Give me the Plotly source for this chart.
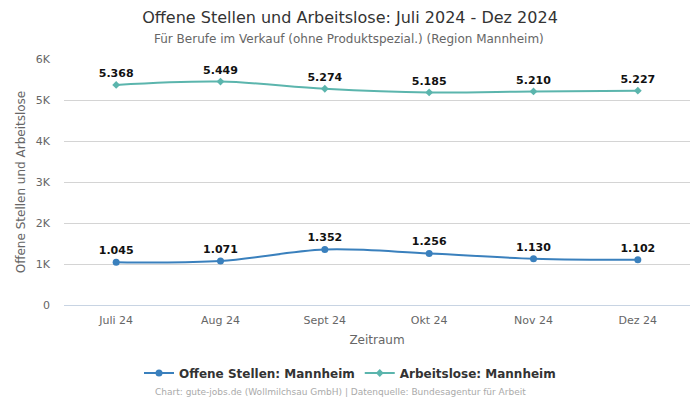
import plotly.graph_objects as go

months = ["Juli 24", "Aug 24", "Sept 24", "Okt 24", "Nov 24", "Dez 24"]
offene = [1045, 1071, 1352, 1256, 1130, 1102]
arbeitslose = [5368, 5449, 5274, 5185, 5210, 5227]
y_ticks = [0, 1000, 2000, 3000, 4000, 5000, 6000]
y_tick_labels = ["0", "1K", "2K", "3K", "4K", "5K", "6K"]

def fmt(v):
    return f"{v:,}".replace(",", ".")

FONT = "DejaVu Sans"
c_off = "#3a80bd"
c_arb = "#5bb5ad"

# page body has an 8px default margin -> figure is 692x392
W, H = 692, 392
L, T, PW, PH = 56, 51, 626, 246

fig = go.Figure()
fig.add_trace(go.Scatter(
    x=months, y=offene, name="Offene Stellen: Mannheim",
    mode="lines+markers+text", line=dict(color=c_off, width=2, shape="spline"),
    marker=dict(symbol="circle", size=7, color=c_off),
    text=[fmt(v) for v in offene], textposition="top center",
    textfont=dict(family=FONT, size=11, color="#111111", weight="bold"),
))
fig.add_trace(go.Scatter(
    x=months, y=arbeitslose, name="Arbeitslose: Mannheim",
    mode="lines+markers+text", line=dict(color=c_arb, width=2, shape="spline"),
    marker=dict(symbol="diamond", size=6, color=c_arb),
    text=[fmt(v) for v in arbeitslose], textposition="top center",
    textfont=dict(family=FONT, size=11, color="#111111", weight="bold"),
))

fig.update_layout(
    width=W, height=H,
    margin=dict(l=L, r=W - L - PW, t=T, b=H - T - PH, autoexpand=False),
    paper_bgcolor="white", plot_bgcolor="white",
    font=dict(family=FONT, color="#666666"),
    title=dict(
        text="Offene Stellen und Arbeitslose: Juli 2024 - Dez 2024",
        xref="container", yref="container",
        x=342 / W, xanchor="center", y=1 - 9 / H, yanchor="middle",
        font=dict(family=FONT, size=16, color="#333333"),
    ),
    xaxis=dict(
        type="category", range=[-0.5, 5.5],
        showgrid=False, showline=False, ticks="",
        ticklabelstandoff=7,
        tickfont=dict(size=11, color="#666666"),
        title=dict(text="Zeitraum", font=dict(size=12, color="#666666"), standoff=9),
    ),
    yaxis=dict(
        range=[0, 6000], tickvals=y_ticks, ticktext=y_tick_labels,
        showgrid=True, gridcolor="#d4d4d4", gridwidth=1,
        zeroline=True, zerolinecolor="#c8d4e3", zerolinewidth=1,
        ticklabelstandoff=13,
        tickfont=dict(size=11, color="#666666"),
        title=dict(text="Offene Stellen und Arbeitslose", font=dict(size=12, color="#666666"), standoff=7),
    ),
    legend=dict(
        orientation="h", xref="container", yref="container",
        x=342 / W, xanchor="center", y=1 - 365 / H, yanchor="middle",
        font=dict(size=12, color="#333333", weight="bold"),
    ),
    showlegend=True,
)

fig.add_annotation(
    text="Für Berufe im Verkauf (ohne Produktspezial.) (Region Mannheim)",
    xref="paper", yref="paper", x=(340.5 - L) / PW, y=(T + PH - 31) / PH,
    xanchor="center", yanchor="middle", showarrow=False,
    font=dict(size=12, color="#666666"),
)
fig.add_annotation(
    text="Chart: gute-jobs.de (Wollmilchsau GmbH) | Datenquelle: Bundesagentur für Arbeit",
    xref="paper", yref="paper", x=(332 - L) / PW, y=(T + PH - 384) / PH,
    xanchor="center", yanchor="middle",
    showarrow=False, font=dict(size=9, color="#aaaaaa"),
)

fig.write_html("out.html")
